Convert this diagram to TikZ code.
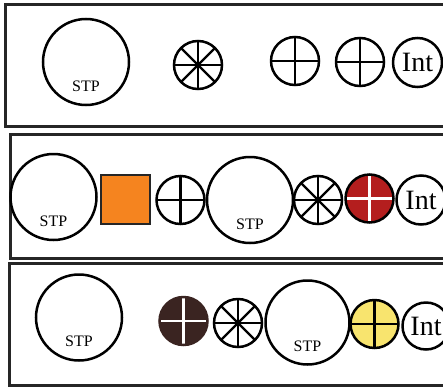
\documentclass[tikz,border=0pt]{standalone}
\usepackage{fontspec}
\setmainfont{Liberation Serif}
\usetikzlibrary{positioning}
\definecolor{crossred}{HTML}{B41E1E}
\definecolor{crossbrown}{HTML}{3A2421}
\definecolor{crossyellow}{HTML}{F8E46E}
\definecolor{sqorange}{HTML}{F5841F}
\begin{document}
\begin{tikzpicture}[
  x=1pt, y=-1pt,
  frame/.style={draw=black!85, line width=3pt},
  stp/.style={draw, circle, line width=2.5pt, minimum size=86pt, inner sep=0pt,
    label={[yshift=-24pt, font=\fontsize{16}{16}\selectfont]center:STP}},
  wheel/.style={draw, circle, line width=2.5pt, minimum size=48pt, inner sep=0pt,
    path picture={\foreach \a in {0,45,90,135}
      \draw[line width=2.2pt, shift={(path picture bounding box.center)}] (\a:30pt) -- (\a+180:30pt);}},
  crossc/.style={draw, circle, line width=2.5pt, minimum size=48pt, inner sep=0pt,
    path picture={\draw[line width=2.3pt, #1]
      (path picture bounding box.north) -- (path picture bounding box.south)
      (path picture bounding box.west) -- (path picture bounding box.east);}},
  crossc/.default=black,
  intc/.style={draw, circle, line width=2.5pt, minimum size=49pt, inner sep=0pt,
    font=\fontsize{28}{28}\selectfont},
  sq/.style={draw=black!85, fill=sqorange, line width=2pt, minimum size=49pt, inner sep=0pt}
]
\useasboundingbox (0,0) rectangle (443,388);

\draw[frame] (5,4) rectangle (460,126);
\draw[frame] (10,134) rectangle (460,258);
\draw[frame] (9,263) rectangle (460,385);

\node[stp] (stpa) at (86,62) {};
\node[wheel] (whla) at (198,65) {};
\node[crossc] (crsa) at (295,61) {};
\node[crossc] (crsb) at (360,62) {};
\node[intc] (inta) at (417.5,62.5) {Int};

\node[stp] (stpb) at (53.5,197) {};
\node[sq] (sqa) at (125.5,199) {};
\node[crossc] (crsc) at (180.5,200) {};
\node[stp] (stpc) at (250,200) {};
\node[wheel] (whlb) at (318,200) {};
\node[crossc=white, fill=crossred] (crsd) at (369.5,198.5) {};
\node[intc] (intb) at (421,200) {Int};

\node[stp] (stpd) at (79,317.5) {};
\node[crossc=white, draw=crossbrown, fill=crossbrown] (crse) at (183.5,321) {};
\node[wheel] (whlc) at (238,323) {};
\node[stp, minimum size=84pt] (stpe) at (307.5,322.5) {};
\node[crossc, fill=crossyellow] (crsf) at (374.5,324) {};
\node[intc, minimum size=47pt] (intc) at (426,326) {Int};
\end{tikzpicture}
\end{document}
